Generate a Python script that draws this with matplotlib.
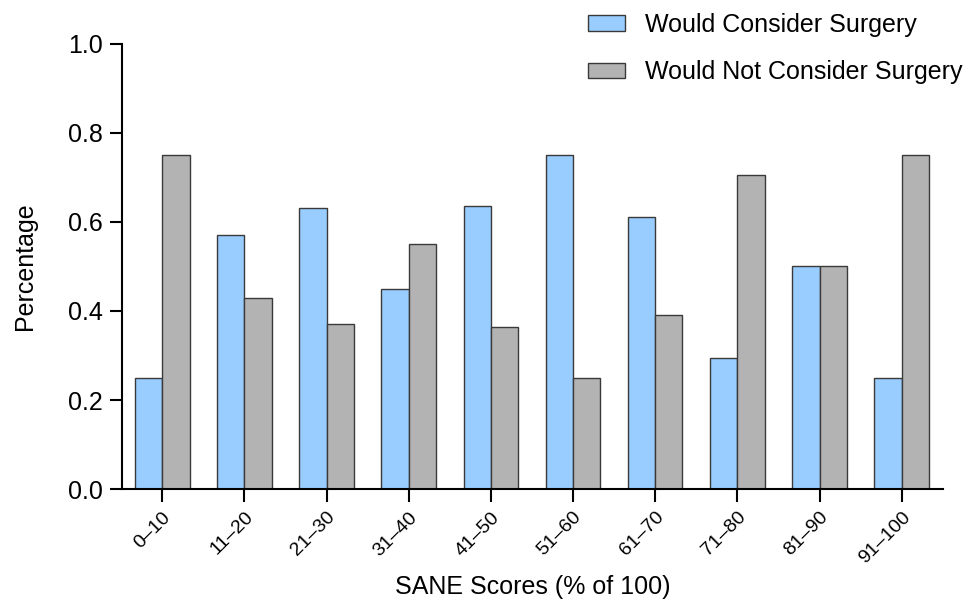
import numpy as np
import matplotlib
matplotlib.use("Agg")
import matplotlib.pyplot as plt

plt.rcParams["font.family"] = ["Liberation Sans", "DejaVu Sans"]

# SANE score bins and the share of patients in each group
score_bins = ["0–10", "11–20", "21–30", "31–40", "41–50",
              "51–60", "61–70", "71–80", "81–90", "91–100"]
would_consider = [0.25, 0.571, 0.63, 0.45, 0.636, 0.75, 0.61, 0.294, 0.50, 0.25]
would_not_consider = [0.75, 0.429, 0.37, 0.55, 0.364, 0.25, 0.39, 0.706, 0.50, 0.75]

fig = plt.figure(figsize=(9.69, 6.01), dpi=100)
ax = fig.add_axes([0.1259, 0.1859, 0.847, 0.7417])

x = np.arange(len(score_bins))
width = 0.332
edge = "#3a3a3a"
ax.bar(x - width / 2, would_consider, width, color="#99ccff", edgecolor=edge,
       linewidth=1.0, label="Would Consider Surgery")
ax.bar(x + width / 2, would_not_consider, width, color="#b3b3b3", edgecolor=edge,
       linewidth=1.0, label="Would Not Consider Surgery")

ax.set_xlim(-0.49, 9.5)
ax.set_ylim(0, 1.0)
ax.set_yticks([0.0, 0.2, 0.4, 0.6, 0.8, 1.0])
ax.set_yticklabels(["0.0", "0.2", "0.4", "0.6", "0.8", "1.0"], fontsize=18)
ax.set_xticks(x)
ax.set_xticklabels(score_bins, rotation=45, ha="right", rotation_mode="anchor",
                   fontsize=14)

for side in ("top", "right"):
    ax.spines[side].set_visible(False)
for side in ("left", "bottom"):
    ax.spines[side].set_linewidth(1.5)
ax.tick_params(axis="both", direction="out", length=9, width=1.5, pad=5)

ax.set_xlabel("SANE Scores (% of 100)", fontsize=18, labelpad=6)
ax.set_ylabel("Percentage", fontsize=18, labelpad=22)

ax.legend(loc="upper left", bbox_to_anchor=(0.54, 1.12), frameon=False,
          fontsize=18, handlelength=1.5, handleheight=0.6, labelspacing=0.95,
          handletextpad=0.8)

fig.savefig("out.png", dpi=100)
